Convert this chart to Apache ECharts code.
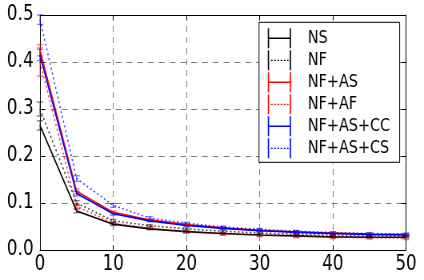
<!DOCTYPE html>
<html>
<head>
<meta charset="utf-8">
<script src="https://cdn.jsdelivr.net/npm/echarts@6/dist/echarts.min.js"></script>
<style>
html,body{margin:0;padding:0;background:#fff;overflow:hidden;}
#c{width:530px;height:280px;transform:scaleX(0.8);transform-origin:0 0;}
</style>
</head>
<body>
<div id="c"></div>
<script>
// ---- data ----
const xValues = [0, 5, 10, 15, 20, 25, 30, 35, 40, 45, 50];
const seriesNames = ['NS', 'NF', 'NF+AS', 'NF+AF', 'NF+AS+CC', 'NF+AS+CS'];
const ns      = [0.265, 0.083, 0.055, 0.045, 0.039, 0.035, 0.032, 0.030, 0.028, 0.027, 0.027];
const nf      = [0.300, 0.100, 0.062, 0.052, 0.045, 0.040, 0.036, 0.034, 0.032, 0.031, 0.030];
const nfAs    = [0.425, 0.125, 0.080, 0.064, 0.054, 0.047, 0.042, 0.038, 0.036, 0.034, 0.033];
const nfAf    = [0.400, 0.093, 0.057, 0.047, 0.038, 0.034, 0.031, 0.029, 0.027, 0.026, 0.025];
const nfAsCc  = [0.415, 0.120, 0.077, 0.062, 0.052, 0.046, 0.041, 0.038, 0.035, 0.033, 0.032];
const nfAsCs  = [0.490, 0.152, 0.095, 0.068, 0.057, 0.049, 0.044, 0.040, 0.037, 0.035, 0.034];
const nsErr     = [0.010, 0.004, 0.003, 0.002, 0.002, 0.002, 0.002, 0.002, 0.002, 0.002, 0.002];
const nfErr     = [0.015, 0.005, 0.003, 0.002, 0.002, 0.002, 0.002, 0.002, 0.002, 0.002, 0.002];
const nfAsErr   = [0.012, 0.005, 0.003, 0.002, 0.002, 0.002, 0.002, 0.002, 0.002, 0.002, 0.002];
const nfAfErr   = [0.030, 0.004, 0.003, 0.003, 0.003, 0.003, 0.003, 0.003, 0.003, 0.003, 0.003];
const nfAsCcErr = [0.012, 0.005, 0.003, 0.002, 0.002, 0.002, 0.002, 0.002, 0.002, 0.002, 0.002];
const nfAsCsErr = [0.010, 0.006, 0.004, 0.003, 0.002, 0.002, 0.002, 0.002, 0.002, 0.002, 0.002];
const xTicks = [0, 10, 20, 30, 40, 50];
const yTicks = [0.0, 0.1, 0.2, 0.3, 0.4, 0.5];

// ---- styles ----
const seriesValues = [ns, nf, nfAs, nfAf, nfAsCc, nfAsCs];
const seriesErrs = [nsErr, nfErr, nfAsErr, nfAfErr, nfAsCcErr, nfAsCsErr];
const colors = ['#000000', '#000000', '#ff0000', '#ff0000', '#0000ff', '#0000ff'];
const dotted = [false, true, false, true, false, true];
const FONT = 'DejaVu Sans';

const solidIcon = 'path://M0,0H1.6V20H0Z M27.4,0H29V20H27.4Z M1.6,9.25H27.4V10.75H1.6Z';
const dottedIcon = 'path://M0,0H1.6V20H0Z M27.4,0H29V20H27.4Z M4,9.4h2v1.2h-2Z M8,9.4h2v1.2h-2Z M12,9.4h2v1.2h-2Z M16,9.4h2v1.2h-2Z M20,9.4h2v1.2h-2Z M24,9.4h2v1.2h-2Z';

const series = [];
seriesNames.forEach((name, i) => {
  const vals = seriesValues[i], errs = seriesErrs[i], col = colors[i];
  series.push({
    type: 'custom',
    name: name + '_err',
    silent: true,
    z: 3,
    data: xValues.map((x, k) => [x, vals[k], errs[k]]),
    renderItem: function (params, api) {
      const x = api.value(0), v = api.value(1), e = api.value(2);
      const p1 = api.coord([x, v + e]), p2 = api.coord([x, v - e]);
      const cw = 4;
      const st = { stroke: col, lineWidth: 1.3, opacity: 0.5 };
      return {
        type: 'group',
        children: [
          { type: 'line', shape: { x1: p1[0], y1: p1[1], x2: p2[0], y2: p2[1] }, style: st },
          { type: 'line', shape: { x1: p1[0] - cw, y1: p1[1], x2: p1[0] + cw, y2: p1[1] }, style: st },
          { type: 'line', shape: { x1: p2[0] - cw, y1: p2[1], x2: p2[0] + cw, y2: p2[1] }, style: st }
        ]
      };
    }
  });
  series.push({
    type: 'line',
    name: name,
    z: 4,
    data: xValues.map((x, k) => [x, vals[k]]),
    symbol: 'none',
    color: col,
    lineStyle: dotted[i]
      ? { color: col, width: 1.6, type: [2, 3], opacity: 0.75 }
      : { color: col, width: 1.6, type: 'solid' },
    animation: false
  });
});

const gridColor = '#808080';
const option = {
  animation: false,
  backgroundColor: '#ffffff',
  grid: { left: 50, right: 22.5, top: 15, bottom: 30, containLabel: false },
  xAxis: [
    {
      type: 'value', min: xTicks[0], max: xTicks[xTicks.length - 1], interval: 10,
      axisLine: { show: true, onZero: false, lineStyle: { color: '#000', width: 1 } },
      axisTick: { show: true, inside: true, length: 5, lineStyle: { color: '#000' } },
      axisLabel: { color: '#000', fontFamily: FONT, fontSize: 21, margin: 4 },
      splitLine: { show: true, lineStyle: { color: gridColor, type: [6, 5], width: 1 } }
    },
    {
      type: 'value', position: 'top', min: xTicks[0], max: xTicks[xTicks.length - 1], interval: 10,
      axisLine: { show: true, onZero: false, lineStyle: { color: '#000', width: 1 } },
      axisTick: { show: true, inside: true, length: 5, lineStyle: { color: '#000' } },
      axisLabel: { show: false }, splitLine: { show: false }
    }
  ],
  yAxis: [
    {
      type: 'value', min: yTicks[0], max: yTicks[yTicks.length - 1], interval: 0.1,
      axisLine: { show: true, onZero: false, lineStyle: { color: '#000', width: 1 } },
      axisTick: { show: true, inside: true, length: 6, lineStyle: { color: '#000' } },
      axisLabel: { color: '#000', fontFamily: FONT, fontSize: 21, margin: 8, formatter: v => v.toFixed(1) },
      splitLine: { show: true, lineStyle: { color: gridColor, type: [7.5, 6], width: 1 } }
    },
    {
      type: 'value', position: 'right', min: yTicks[0], max: yTicks[yTicks.length - 1], interval: 0.1,
      axisLine: { show: true, onZero: false, lineStyle: { color: '#000', width: 1 } },
      axisTick: { show: true, inside: true, length: 6, lineStyle: { color: '#000' } },
      axisLabel: { show: false }, splitLine: { show: false }
    }
  ],
  legend: {
    orient: 'vertical',
    left: 323.75, top: 22.3,
    width: 175,
    padding: [6, 12, 4, 11],
    itemGap: 2,
    itemWidth: 29, itemHeight: 20,
    backgroundColor: '#ffffff',
    borderColor: '#000000', borderWidth: 1, borderRadius: 0,
    selectedMode: false,
    textStyle: { color: '#000', fontFamily: FONT, fontSize: 18, padding: [0, 0, 0, 16] },
    data: seriesNames.map((n, i) => ({
      name: n,
      icon: dotted[i] ? dottedIcon : solidIcon,
      itemStyle: { color: colors[i], opacity: 1 }
    }))
  },
  series: series
};

const chart = echarts.init(document.getElementById('c'), null, { renderer: 'canvas' });
chart.setOption(option);
</script>
</body>
</html>
